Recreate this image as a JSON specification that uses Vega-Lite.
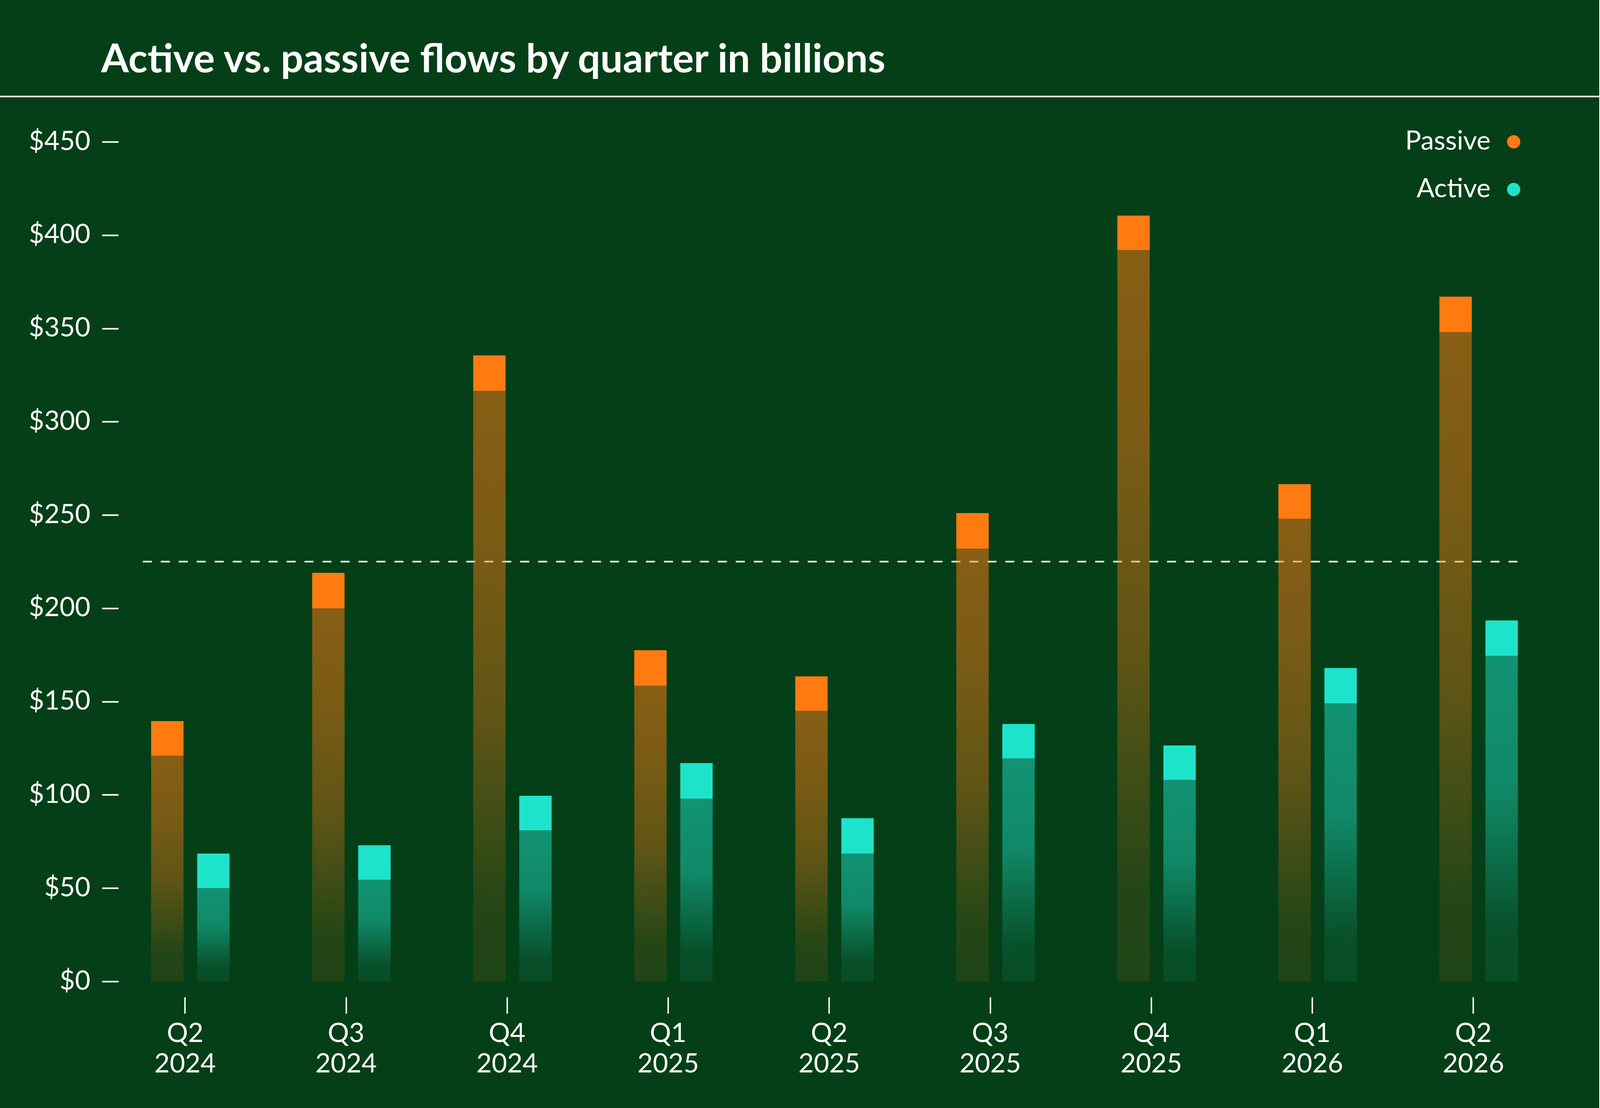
{
  "$schema": "https://vega.github.io/schema/vega-lite/v6.json",
  "width": 4094,
  "height": 2149,
  "autosize": {"type": "none"},
  "padding": {"left": 0, "top": 363, "right": 0, "bottom": 324},
  "background": "#053F17",
  "title": {
    "text": "Active vs. passive flows by quarter in billions",
    "anchor": "start",
    "frame": "group",
    "orient": "top",
    "font": "Lato",
    "fontWeight": "bold",
    "fontSize": 102,
    "color": "white",
    "baseline": "alphabetic",
    "dx": 259,
    "offset": -42
  },
  "datasets": {
    "flows": [
      {"quarter": "Q2 2024", "series": "Passive", "total": 139.5, "body": 121},
      {"quarter": "Q2 2024", "series": "Active", "total": 68.5, "body": 50},
      {"quarter": "Q3 2024", "series": "Passive", "total": 219, "body": 200},
      {"quarter": "Q3 2024", "series": "Active", "total": 73, "body": 54.5},
      {"quarter": "Q4 2024", "series": "Passive", "total": 335.5, "body": 316.5},
      {"quarter": "Q4 2024", "series": "Active", "total": 99.5, "body": 81},
      {"quarter": "Q1 2025", "series": "Passive", "total": 177.5, "body": 158.5},
      {"quarter": "Q1 2025", "series": "Active", "total": 117, "body": 98},
      {"quarter": "Q2 2025", "series": "Passive", "total": 163.5, "body": 145},
      {"quarter": "Q2 2025", "series": "Active", "total": 87.5, "body": 68.5},
      {"quarter": "Q3 2025", "series": "Passive", "total": 251, "body": 232},
      {"quarter": "Q3 2025", "series": "Active", "total": 138, "body": 119.5},
      {"quarter": "Q4 2025", "series": "Passive", "total": 410.5, "body": 392},
      {"quarter": "Q4 2025", "series": "Active", "total": 126.5, "body": 108},
      {"quarter": "Q1 2026", "series": "Passive", "total": 266.5, "body": 248},
      {"quarter": "Q1 2026", "series": "Active", "total": 168, "body": 149},
      {"quarter": "Q2 2026", "series": "Passive", "total": 367, "body": 348},
      {"quarter": "Q2 2026", "series": "Active", "total": 193.5, "body": 174.5}
    ],
    "reference": [
      {"label": "average", "value": 225}
    ]
  },
  "data": {"name": "flows"},
  "layer": [
    {
      "data": {"name": "reference"},
      "mark": {"type": "rule", "color": "white", "strokeWidth": 4},
      "encoding": {
        "y": {"datum": 474.3, "type": "quantitative", "scale": {"domain": [0, 450], "nice": false}}
      }
    },
    {
      "data": {"name": "reference"},
      "mark": {"type": "rule", "color": "white", "strokeWidth": 4, "strokeDash": [23, 23], "xOffset": -121.6, "x2Offset": 107},
      "encoding": {
        "x": {
          "datum": "Q2 2024", "type": "nominal",
          "scale": {"domain": ["Q2 2024", "Q3 2024", "Q4 2024", "Q1 2025", "Q2 2025", "Q3 2025", "Q4 2025", "Q1 2026", "Q2 2026"], "paddingInner": 0.513, "paddingOuter": 0.722, "align": 0.65}
        },
        "x2": {"datum": "Q2 2026"},
        "y": {"field": "value", "type": "quantitative", "scale": {"domain": [0, 450], "nice": false}}
      }
    },
    {
      "transform": [{"filter": "datum.series === 'Passive'"}],
      "mark": {
        "type": "bar",
        "color": {
          "gradient": "linear", "x1": 0, "y1": 1, "x2": 0, "y2": 0,
          "stops": [
            {"offset": 0, "color": "rgba(255,123,18,0.11)"},
            {"offset": 0.12, "color": "rgba(255,123,18,0.12)"},
            {"offset": 0.45, "color": "rgba(255,123,18,0.36)"},
            {"offset": 0.75, "color": "rgba(255,123,18,0.47)"},
            {"offset": 1, "color": "rgba(255,123,18,0.52)"}
          ]
        }
      },
      "encoding": {
        "x": {
          "field": "quarter", "type": "nominal",
          "scale": {"domain": ["Q2 2024", "Q3 2024", "Q4 2024", "Q1 2025", "Q2 2025", "Q3 2025", "Q4 2025", "Q1 2026", "Q2 2026"], "paddingInner": 0.513, "paddingOuter": 0.722, "align": 0.65},
          "axis": {
            "orient": "bottom", "offset": 40, "domain": false, "grid": false,
            "tickSize": 42, "tickWidth": 3.7, "tickColor": "white", "tickOffset": -14,
            "labelExpr": "split(datum.label, ' ')", "labelAngle": 0, "labelAlign": "center",
            "labelPadding": 18, "labelBaseline": "top", "labelLineHeight": 78,
            "labelFont": "Lato", "labelFontSize": 68, "labelColor": "white", "labelLimit": 0,
            "title": null
          }
        },
        "xOffset": {"field": "series", "type": "nominal", "scale": {"domain": ["Passive", "Active"], "paddingInner": 0.297, "paddingOuter": 0}},
        "y": {
          "field": "body", "type": "quantitative", "stack": null,
          "scale": {"domain": [0, 450], "nice": false},
          "axis": {
            "values": [0, 50, 100, 150, 200, 250, 300, 350, 400, 450],
            "labelExpr": "'$' + datum.value",
            "offset": -303, "domain": false, "grid": false,
            "tickSize": 42, "tickWidth": 4, "tickColor": "white",
            "labelPadding": 30, "labelFont": "Lato", "labelFontSize": 68, "labelColor": "white", "labelLimit": 0,
            "title": null
          }
        }
      }
    },
    {
      "transform": [{"filter": "datum.series === 'Active'"}],
      "mark": {
        "type": "bar",
        "color": {
          "gradient": "linear", "x1": 0, "y1": 1, "x2": 0, "y2": 0,
          "stops": [
            {"offset": 0, "color": "rgba(30,227,203,0.09)"},
            {"offset": 0.15, "color": "rgba(30,227,203,0.1)"},
            {"offset": 0.6, "color": "rgba(30,227,203,0.45)"},
            {"offset": 1, "color": "rgba(30,227,203,0.51)"}
          ]
        }
      },
      "encoding": {
        "x": {
          "field": "quarter", "type": "nominal",
          "scale": {"domain": ["Q2 2024", "Q3 2024", "Q4 2024", "Q1 2025", "Q2 2025", "Q3 2025", "Q4 2025", "Q1 2026", "Q2 2026"], "paddingInner": 0.513, "paddingOuter": 0.722, "align": 0.65}
        },
        "xOffset": {"field": "series", "type": "nominal", "scale": {"domain": ["Passive", "Active"], "paddingInner": 0.297, "paddingOuter": 0}},
        "y": {"field": "body", "type": "quantitative", "stack": null, "scale": {"domain": [0, 450], "nice": false}}
      }
    },
    {
      "mark": {"type": "bar"},
      "encoding": {
        "x": {
          "field": "quarter", "type": "nominal",
          "scale": {"domain": ["Q2 2024", "Q3 2024", "Q4 2024", "Q1 2025", "Q2 2025", "Q3 2025", "Q4 2025", "Q1 2026", "Q2 2026"], "paddingInner": 0.513, "paddingOuter": 0.722, "align": 0.65}
        },
        "xOffset": {"field": "series", "type": "nominal", "scale": {"domain": ["Passive", "Active"], "paddingInner": 0.297, "paddingOuter": 0}},
        "y": {"field": "total", "type": "quantitative", "stack": null, "scale": {"domain": [0, 450], "nice": false}},
        "y2": {"field": "body"},
        "color": {
          "field": "series", "type": "nominal",
          "scale": {"domain": ["Passive", "Active"], "range": ["#FF7B12", "#1EE3CB"]},
          "legend": {
            "orient": "none", "legendX": 3841, "legendY": -34, "title": null,
            "symbolType": "circle", "symbolSize": 1150, "symbolOpacity": 1, "symbolStrokeWidth": 0,
            "labelFont": "Lato", "labelFontSize": 68, "labelColor": "white", "labelLimit": 0,
            "labelAlign": "right", "labelOffset": -93, "rowPadding": 54, "padding": 0
          }
        }
      }
    }
  ],
  "config": {
    "font": "Lato",
    "view": {"stroke": null}
  }
}
